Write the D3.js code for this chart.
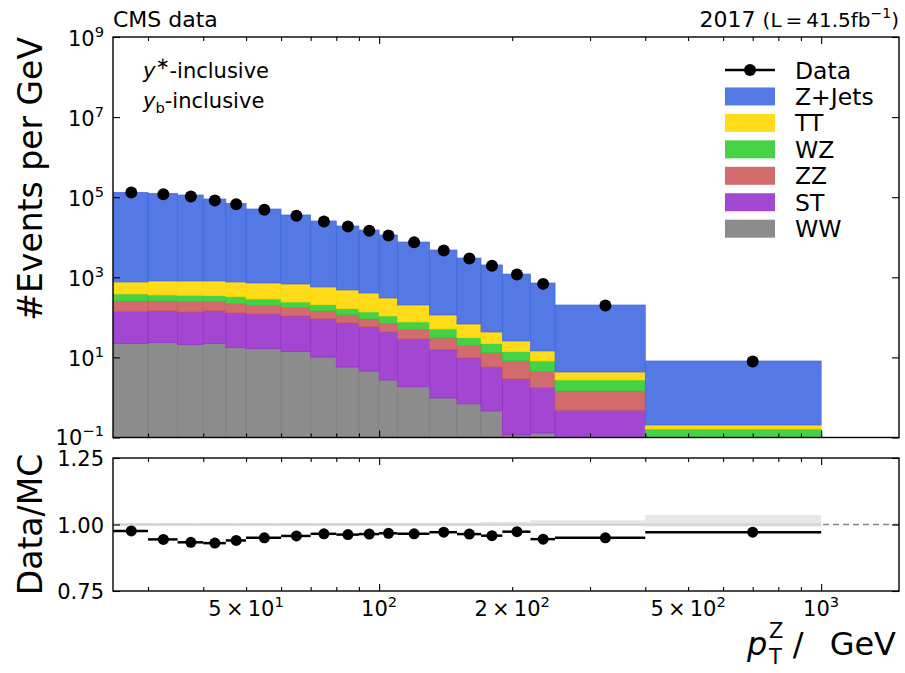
<!DOCTYPE html>
<html>
<head>
<meta charset="utf-8">
<script src="https://cdn.jsdelivr.net/npm/d3@7"></script>
<style>
  body { margin: 0; background: #fff; }
  svg text { font-family: "DejaVu Sans", sans-serif; fill: #000; }
</style>
</head>
<body>
<div id="chart"></div>
<script>
// bin edges in pT(Z) / GeV
const binEdges = [25, 30, 35, 40, 45, 50, 60, 70, 80, 90, 100, 110, 130, 150, 170, 190, 220, 250, 400, 1000];

// MC stack, events per GeV (bottom to top: WW, ST, ZZ, WZ, TT, Z+Jets)
const zjets = [1.317e5, 1.242e5, 1.127e5, 8.94e4, 6.97e4, 5.0e4, 3.53e4, 2.49e4, 1.862e4, 1.476e4, 1.108e4, 7.40e3, 4.69e3, 2.96e3, 1.99e3, 1.18e3, 706, 199, 7.93];
const ttbar = [381, 448, 453, 462, 435, 434, 439, 366, 318, 269, 196, 127, 63.3, 37.2, 21.1, 11.8, 6.37, 1.59, 0.042];
const wz    = [127, 105, 110, 101, 109, 87, 63.4, 62.8, 48, 43.6, 37.1, 26.3, 20.7, 11.4, 8.9, 5.6, 3.63, 1.28, 0.123];
const zz    = [114, 112, 110, 99.4, 90.8, 78.7, 70.1, 51.7, 44.1, 35.1, 27.9, 21.5, 14.9, 9.94, 7.35, 5.38, 2.75, 0.97, 0.03];
const st    = [120, 121, 115, 125, 111, 105, 94.2, 82.3, 66.5, 52.8, 40.4, 26.9, 14.6, 8.97, 5.29, 2.78, 1.62, 0.478, 0.01];
const ww    = [22, 23.3, 20.8, 22, 17.5, 16.5, 13.9, 10.2, 5.75, 4.57, 2.73, 1.85, 0.97, 0.69, 0.46, 0.115, 0.13, 0, 0];

// data, events per GeV
const dataVals = [1.31e5, 1.18e5, 1.04e5, 8.3e4, 6.64e4, 4.85e4, 3.45e4, 2.48e4, 1.86e4, 1.45e4, 1.11e4, 7.45e3, 4.7e3, 2.93e3, 1.94e3, 1.18e3, 685, 197, 7.9];

// lower panel
const ratioVals = [0.976, 0.944, 0.933, 0.930, 0.940, 0.950, 0.957, 0.965, 0.962, 0.964, 0.967, 0.965, 0.971, 0.964, 0.958, 0.973, 0.945, 0.950, 0.971];
const bandHi = [1.006, 1.006, 1.006, 1.006, 1.006, 1.006, 1.006, 1.006, 1.006, 1.006, 1.007, 1.007, 1.007, 1.007, 1.010, 1.010, 1.016, 1.016, 1.036];
const bandLo = [0.995, 0.995, 0.995, 0.995, 0.995, 0.995, 0.995, 0.995, 0.995, 0.995, 0.995, 0.995, 0.995, 0.995, 0.995, 0.995, 0.994, 0.994, 0.992];

const processes = ["Z+Jets", "TT", "WZ", "ZZ", "ST", "WW"];
const colors = ["#4169e1", "#ffd700", "#32cd32", "#cd5c5c", "#9932cc", "#808080"];

// tick labels
const yTopTicks = [-1, 1, 3, 5, 7, 9];          // exponents
const yRatioTicks = [0.75, 1.00, 1.25];
const xLabelTicks = [[50, "5", "1"], [100, "", "2"], [200, "2", "2"], [500, "5", "2"], [1000, "", "3"]];
const xMajor = [100, 1000];
const xMinor = [30, 40, 50, 60, 70, 80, 90, 200, 300, 400, 500, 600, 700, 800, 900];

const W = 905, H = 673;
const L = 113, R = 899;
const T1 = 37, B1 = 437.5, T2 = 458, B2 = 591;

const svg = d3.select("#chart").append("svg").attr("width", W).attr("height", H);

const x = d3.scaleLog().domain([25, 1500]).range([L, R]);
const y = d3.scaleLog().domain([0.1, 1e9]).range([B1, T1]).clamp(true);
const yr = d3.scaleLinear().domain([0.75, 1.25]).range([B2, T2]);

// write text with super/subscripts, parts: {t, sup, sub, it}
function rich(sel, parts, size) {
  let shift = 0;
  parts.forEach(p => {
    const target = p.sup ? -0.42 * size : (p.sub ? 0.22 * size : 0);
    const ts = sel.append("tspan").text(p.t).attr("dy", target - shift);
    shift = target;
    if (p.sup || p.sub) ts.attr("font-size", (p.fs || 0.7) * size);
    if (p.it) ts.attr("font-style", "italic");
  });
}

const bins = d3.range(binEdges.length - 1).map(i => ({ lo: binEdges[i], hi: binEdges[i + 1], c: (binEdges[i] + binEdges[i + 1]) / 2 }));

// ---------------- upper panel ----------------
svg.append("clipPath").attr("id", "clipTop")
  .append("rect").attr("x", L).attr("y", T1).attr("width", R - L).attr("height", B1 - T1);

const series = { "Z+Jets": zjets, "TT": ttbar, "WZ": wz, "ZZ": zz, "ST": st, "WW": ww };
const stackKeys = processes.slice().reverse();
const rows = bins.map((_, i) => Object.fromEntries(stackKeys.map(k => [k, series[k][i]])));
const stacked = d3.stack().keys(stackKeys)(rows);

const gTop = svg.append("g").attr("clip-path", "url(#clipTop)");
stacked.forEach(layer => {
  const col = colors[processes.indexOf(layer.key)];
  gTop.append("g").selectAll("rect")
    .data(layer)
    .join("rect")
    .attr("x", (d, i) => x(bins[i].lo))
    .attr("width", (d, i) => x(bins[i].hi) - x(bins[i].lo))
    .attr("y", d => y(Math.max(d[1], 1e-4)))
    .attr("height", d => y(Math.max(d[0], 1e-4)) - y(Math.max(d[1], 1e-4)))
    .attr("fill", col)
    .attr("fill-opacity", 0.9)
    .attr("stroke", col)
    .attr("stroke-width", 0.7);
});

gTop.append("g").selectAll("circle")
  .data(dataVals)
  .join("circle")
  .attr("cx", (d, i) => x(bins[i].c))
  .attr("cy", d => y(d))
  .attr("r", 6)
  .attr("fill", "#000");

// ---------------- lower panel ----------------
const gLow = svg.append("g");
gLow.append("line")
  .attr("x1", L).attr("x2", R).attr("y1", yr(1)).attr("y2", yr(1))
  .attr("stroke", "#888").attr("stroke-width", 1.5).attr("stroke-dasharray", "6,4");

gLow.append("g").selectAll("rect")
  .data(bins)
  .join("rect")
  .attr("x", d => x(d.lo))
  .attr("width", d => x(d.hi) - x(d.lo))
  .attr("y", (d, i) => yr(bandHi[i]))
  .attr("height", (d, i) => yr(bandLo[i]) - yr(bandHi[i]))
  .attr("fill", "#e6e6e6");

gLow.append("line")
  .attr("x1", x(binEdges[0])).attr("x2", x(binEdges[binEdges.length - 1]))
  .attr("y1", yr(1)).attr("y2", yr(1))
  .attr("stroke", "#d2d2d2").attr("stroke-width", 2);

gLow.append("g").selectAll("line")
  .data(ratioVals)
  .join("line")
  .attr("x1", (d, i) => x(bins[i].lo))
  .attr("x2", (d, i) => x(bins[i].hi))
  .attr("y1", d => yr(d)).attr("y2", d => yr(d))
  .attr("stroke", "#000").attr("stroke-width", 2.5);

gLow.append("g").selectAll("circle")
  .data(ratioVals)
  .join("circle")
  .attr("cx", (d, i) => x(bins[i].c))
  .attr("cy", d => yr(d))
  .attr("r", 5.5)
  .attr("fill", "#000");

// ---------------- axes (inward ticks on all sides) ----------------
function xTicks(top, bottom) {
  [[xMinor, 4], [xMajor, 7]].forEach(([vals, len]) => {
    svg.append("g").attr("transform", `translate(0,${bottom})`)
      .call(d3.axisBottom(x).tickValues(vals).tickSize(-len).tickFormat(""));
    svg.append("g").attr("transform", `translate(0,${top})`)
      .call(d3.axisTop(x).tickValues(vals).tickSize(-len).tickFormat(""));
  });
}
function yTicks(scale, vals) {
  svg.append("g").attr("transform", `translate(${L},0)`)
    .call(d3.axisLeft(scale).tickValues(vals).tickSize(-7).tickFormat(""));
  svg.append("g").attr("transform", `translate(${R},0)`)
    .call(d3.axisRight(scale).tickValues(vals).tickSize(-7).tickFormat(""));
}
xTicks(T1, B1);
xTicks(T2, B2);
yTicks(y, yTopTicks.map(e => Math.pow(10, e)));
yTicks(yr, yRatioTicks);
svg.selectAll(".domain").remove();
svg.selectAll(".tick line").attr("stroke", "#000").attr("stroke-width", 1.1);

[[T1, B1], [T2, B2]].forEach(([t, b]) => {
  svg.append("rect").attr("x", L).attr("y", t).attr("width", R - L).attr("height", b - t)
    .attr("fill", "none").attr("stroke", "#000").attr("stroke-width", 1.4);
});

// tick labels
const tickFs = 21;
yTopTicks.forEach(e => {
  const t = svg.append("text").attr("x", 104).attr("y", y(Math.pow(10, e)) + (e < 0 ? 7 : 8.5))
    .attr("text-anchor", "end").attr("font-size", tickFs);
  rich(t, [{ t: "10" }, { t: e < 0 ? "\u2212" + (-e) : String(e), sup: true }], tickFs);
});
yRatioTicks.forEach(v => {
  svg.append("text").attr("x", 104).attr("y", yr(v) + 8)
    .attr("text-anchor", "end").attr("font-size", tickFs)
    .text(v.toFixed(2));
});
xLabelTicks.forEach(([v, m, e]) => {
  const t = svg.append("text").attr("x", x(v)).attr("y", 616)
    .attr("text-anchor", "middle").attr("font-size", tickFs);
  rich(t, [{ t: (m ? m + "\u2009\u00d7\u2009" : "") + "10" }, { t: e, sup: true }], tickFs);
});

// axis labels
svg.append("text")
  .attr("transform", `translate(42,${T1}) rotate(-90)`)
  .attr("text-anchor", "end").attr("font-size", 33)
  .text("#Events per GeV");
svg.append("text")
  .attr("transform", `translate(42,${(T2 + B2) / 2}) rotate(-90)`)
  .attr("text-anchor", "middle").attr("font-size", 33)
  .text("Data/MC");

// x label: p_T^Z /  GeV
const xlab = svg.append("g");
xlab.append("text").attr("x", R - 3).attr("y", 655).attr("text-anchor", "end")
  .attr("font-size", 32).text("/\u2002 GeV");
xlab.append("text").attr("x", 747).attr("y", 655).attr("font-size", 32)
  .attr("font-style", "italic").text("p");
xlab.append("text").attr("x", 769).attr("y", 638).attr("font-size", 21).text("Z");
xlab.append("text").attr("x", 769).attr("y", 664).attr("font-size", 21).text("T");

// header
svg.append("text").attr("x", L).attr("y", 27).attr("font-size", 22).text("CMS data");
const hr = svg.append("text").attr("x", R).attr("y", 27).attr("text-anchor", "end").attr("font-size", 22);
hr.append("tspan").text("2017 ");
hr.append("tspan").attr("font-size", 20).text("(L\u2009=\u200941.5fb");
hr.append("tspan").attr("font-size", 14).attr("dy", -9).text("\u22121");
hr.append("tspan").attr("font-size", 20).attr("dy", 9).text(")");

// annotations
const a1 = svg.append("text").attr("x", 143).attr("y", 78).attr("font-size", 21);
rich(a1, [{ t: "y", it: true }, { t: "\u2217", sup: true, fs: 0.8 }, { t: "-inclusive" }], 21);
const a2 = svg.append("text").attr("x", 143).attr("y", 108).attr("font-size", 21);
rich(a2, [{ t: "y", it: true }, { t: "b", sub: true }, { t: "-inclusive" }], 21);

// legend
const legX = 725, legY = 70, legStep = 26.45;
const leg = svg.append("g");
leg.append("line").attr("x1", legX).attr("x2", legX + 50).attr("y1", legY).attr("y2", legY)
  .attr("stroke", "#000").attr("stroke-width", 2.5);
leg.append("circle").attr("cx", legX + 25).attr("cy", legY).attr("r", 6).attr("fill", "#000");
leg.append("text").attr("x", legX + 70).attr("y", legY + 8.5).attr("font-size", 23.5).text("Data");
processes.forEach((p, i) => {
  const yy = legY + legStep * (i + 1);
  leg.append("rect").attr("x", legX).attr("y", yy - 9).attr("width", 50).attr("height", 18)
    .attr("fill", colors[i]).attr("fill-opacity", 0.9);
  leg.append("text").attr("x", legX + 70).attr("y", yy + 8.5).attr("font-size", 23.5).text(p);
});
</script>
</body>
</html>
